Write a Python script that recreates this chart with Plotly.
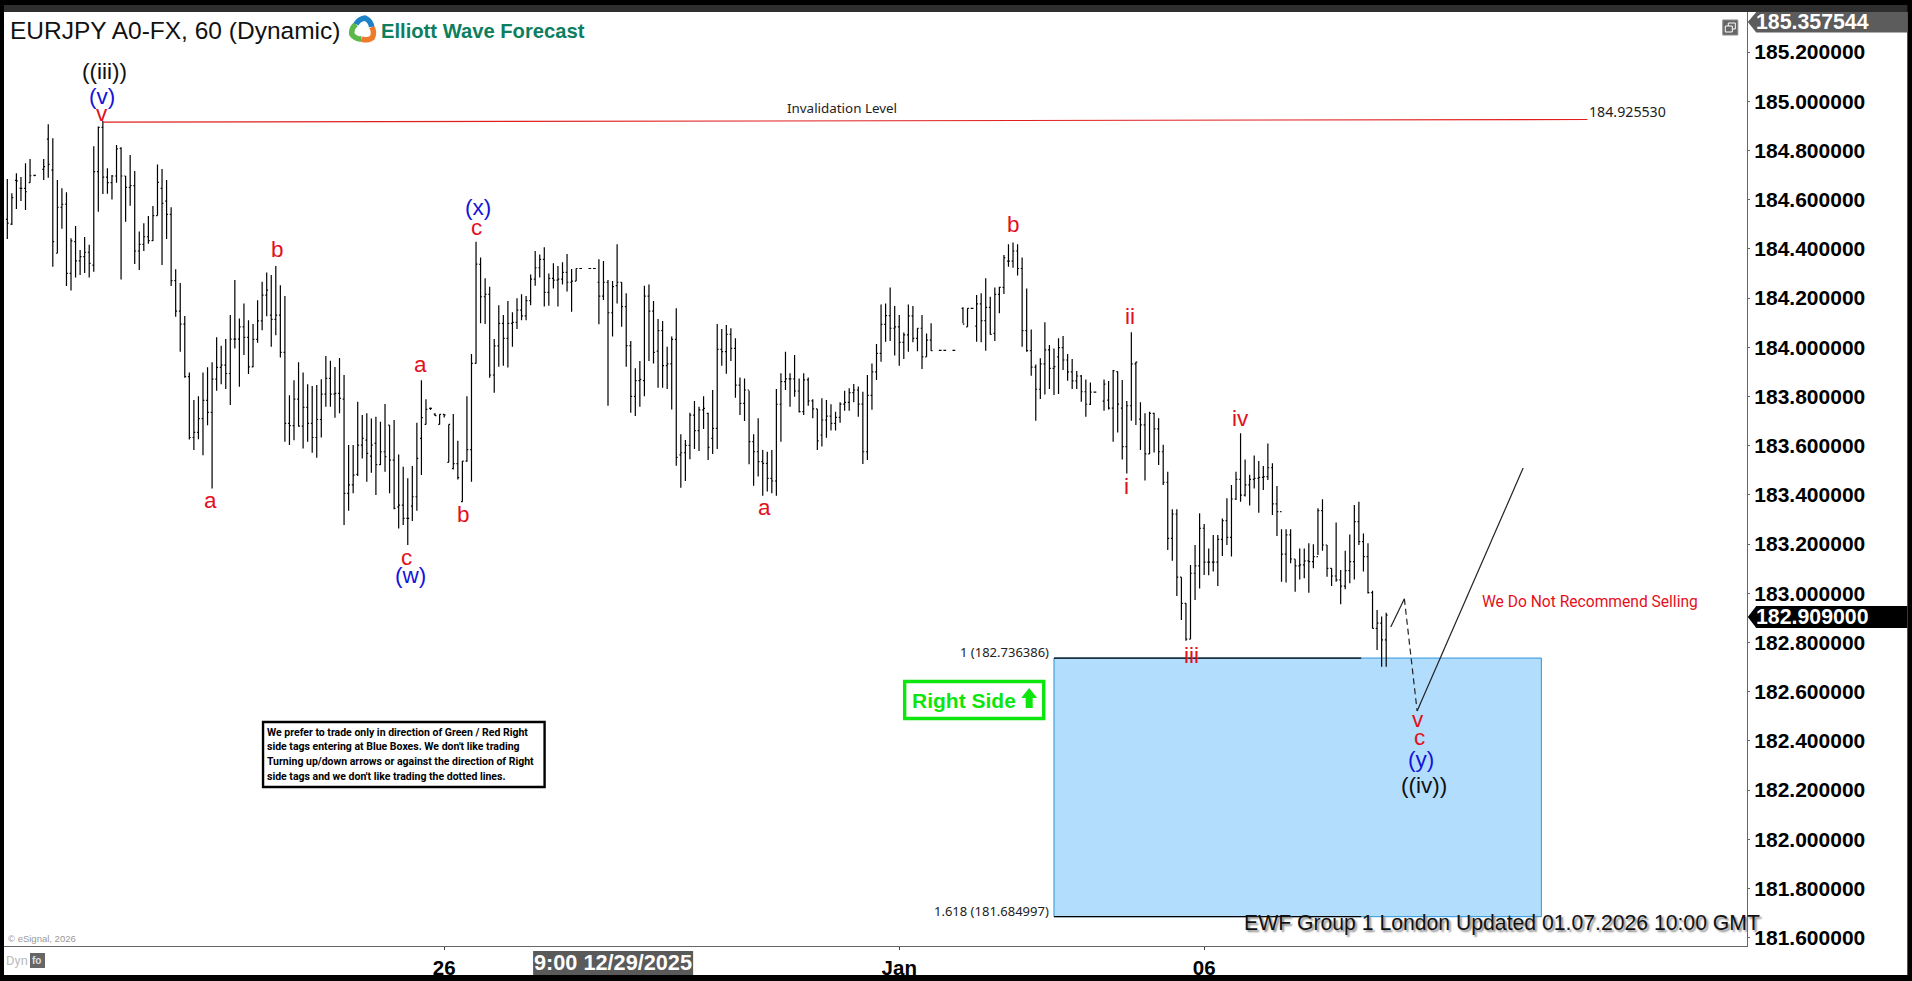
import math
import plotly.graph_objects as go

highs = [184.684,184.626,184.707,184.692,184.748,184.765,184.700,None,184.765,184.906,
184.849,184.680,184.646,184.630,184.443,184.493,184.395,184.448,184.416,184.817,
184.897,184.920,184.727,184.700,184.822,184.813,184.696,184.781,184.716,184.470,
184.504,184.533,184.574,184.743,184.724,184.680,184.569,184.317,184.261,184.127,
183.897,183.785,183.801,183.897,183.919,183.939,184.040,184.006,184.033,184.131,
184.273,184.117,184.178,184.110,184.094,184.191,184.266,184.304,184.293,184.330,
184.252,184.208,183.805,183.866,183.939,183.897,183.849,183.842,183.846,183.870,
183.964,183.945,183.920,183.956,183.887,183.602,183.602,183.778,183.724,183.731,
183.710,183.717,183.697,183.769,183.683,183.704,183.564,183.514,183.467,183.517,
183.693,183.866,183.788,183.755,183.731,183.727,183.727,183.686,183.728,183.620,
183.537,183.801,183.972,184.429,184.365,184.280,184.246,184.033,184.171,184.131,
184.188,184.142,184.199,184.215,184.208,184.296,184.391,184.377,184.406,184.300,
184.341,184.330,184.345,184.379,184.318,184.320,184.322,None,184.322,184.322,
184.358,184.350,184.273,184.269,184.418,184.264,184.219,184.025,183.914,183.944,
184.250,184.255,184.188,184.115,184.106,184.002,184.043,184.158,183.646,183.623,
183.734,183.781,183.758,183.801,183.734,183.826,184.094,184.074,184.090,184.077,
184.036,183.877,183.873,183.823,183.646,183.711,183.582,183.575,183.582,183.830,
183.894,183.982,183.894,183.968,183.873,183.894,183.877,183.788,183.749,183.792,
183.785,183.768,183.738,183.776,183.823,183.833,183.850,183.840,183.819,183.887,
183.934,184.013,184.174,184.178,184.243,184.167,184.131,184.060,184.174,184.167,
184.077,184.131,184.056,184.097,None,183.989,183.989,None,183.989,None,
184.162,184.158,184.160,184.212,184.219,184.280,184.205,184.243,184.246,184.375,
184.419,184.426,184.418,184.365,184.239,184.072,183.930,183.955,184.101,184.009,
183.995,184.036,184.046,183.972,183.952,183.903,183.887,183.869,183.857,183.820,
None,183.869,183.863,183.907,183.901,183.867,183.781,184.061,183.941,183.776,
183.731,183.738,183.734,183.711,183.603,183.494,183.341,183.341,183.065,182.959,
183.115,183.196,183.325,183.281,183.182,183.237,183.237,183.304,183.386,183.440,
183.494,183.650,183.544,183.481,183.560,183.537,183.517,183.609,183.528,183.436,
183.260,183.260,183.260,183.138,183.182,183.182,183.203,183.199,183.345,183.382,
183.196,183.101,183.287,183.094,183.173,183.239,183.359,183.372,183.243,183.203,
183.010,182.932,182.905,182.921]

lows = [184.440,184.497,184.562,184.594,184.558,184.668,184.695,None,184.680,184.689,
184.327,184.382,184.481,184.249,184.230,184.283,184.294,184.302,184.283,184.307,
184.551,184.623,184.624,184.600,184.668,184.275,184.510,184.575,184.338,184.314,
184.391,184.421,184.432,184.535,184.334,184.440,184.249,184.124,183.982,183.876,
183.625,183.582,183.626,183.561,183.683,183.426,183.823,183.849,183.830,183.765,
183.995,183.839,183.968,183.891,183.918,184.018,184.069,184.126,184.002,184.049,
183.958,183.616,183.602,183.622,183.677,183.588,183.616,183.571,183.551,183.633,
183.758,183.758,183.713,183.731,183.277,183.335,183.406,183.476,183.548,183.453,
183.490,183.399,183.521,183.494,183.406,183.341,183.263,183.277,183.196,183.294,
183.335,183.480,183.686,183.745,183.720,183.686,183.714,183.532,183.503,183.462,
183.372,183.534,183.453,183.934,184.097,184.094,183.876,183.815,183.921,183.925,
183.917,184.002,184.074,184.110,184.110,184.171,184.250,184.283,184.165,184.169,
184.239,184.165,184.255,184.226,184.144,184.269,184.318,None,184.318,184.318,
184.093,184.192,183.762,184.043,184.178,184.083,183.921,183.734,183.720,183.758,
183.801,183.944,183.934,183.835,183.835,183.830,183.747,183.518,183.429,183.456,
183.545,183.586,183.578,183.667,183.541,183.566,183.586,183.925,183.892,183.944,
183.795,183.724,183.700,183.524,183.437,183.474,183.396,183.413,183.406,183.396,
183.616,183.826,183.758,183.799,183.735,183.724,183.762,183.711,183.582,183.596,
183.632,183.661,183.661,183.693,183.742,183.742,183.776,183.717,183.525,183.541,
183.746,183.867,183.941,184.022,184.025,183.966,183.925,183.952,183.982,184.020,
183.984,183.911,183.961,183.986,None,183.985,183.985,None,183.985,None,
184.097,184.083,184.156,184.022,184.020,183.986,184.052,184.025,184.138,184.216,
184.327,184.323,184.291,184.002,183.982,183.884,183.701,183.789,183.808,183.830,
183.806,183.810,183.907,183.864,183.830,183.830,183.778,183.717,183.765,183.815,
None,183.742,183.747,183.616,183.653,183.544,183.487,183.701,183.684,183.582,
183.458,183.566,183.572,183.521,183.440,183.176,183.132,182.989,182.891,182.807,
182.813,182.972,183.019,183.074,183.073,183.088,183.029,183.151,183.196,183.149,
183.379,183.372,183.393,183.356,183.426,183.327,183.420,183.460,183.318,183.233,
183.047,183.043,183.122,183.006,183.056,183.061,183.002,183.101,183.155,183.173,
183.067,183.029,183.047,182.955,183.016,183.040,183.056,183.196,183.088,182.999,
182.857,182.769,182.701,182.701]

opens = [184.520,184.500,184.678,184.646,184.646,184.669,184.699,None,184.723,184.846,
184.720,184.382,184.569,184.581,184.300,184.429,184.351,184.368,184.386,184.334,
184.714,184.894,184.691,184.669,184.696,184.808,184.696,184.650,184.657,184.391,
184.418,184.449,184.433,184.535,184.646,184.594,184.540,184.271,184.147,184.094,
183.880,183.633,183.654,183.710,183.784,183.735,183.870,183.918,183.927,183.893,
184.033,184.033,184.083,184.040,183.920,184.032,184.107,184.212,184.130,184.113,
184.130,183.979,183.690,183.681,183.789,183.679,183.755,183.690,183.633,183.706,
183.809,183.873,183.809,183.812,183.789,183.406,183.440,183.483,183.602,183.622,
183.557,183.609,183.523,183.575,183.683,183.541,183.351,183.358,183.304,183.354,
183.392,183.629,183.686,183.751,183.728,183.686,183.727,183.532,183.507,183.527,
183.372,183.537,183.584,183.934,184.337,184.205,184.215,183.887,184.005,184.097,
184.036,184.097,184.101,184.151,184.127,184.189,184.277,184.323,184.357,184.223,
184.280,184.273,184.277,184.304,184.264,184.269,184.320,None,184.320,184.320,
184.264,184.208,184.264,184.140,184.250,184.264,184.165,184.006,183.800,183.864,
183.864,184.208,184.147,183.984,184.067,183.925,183.932,184.032,183.562,183.571,
183.601,183.724,183.661,183.745,183.731,183.629,183.670,183.991,183.982,184.052,
183.995,183.846,183.772,183.826,183.616,183.575,183.535,183.528,183.467,183.456,
183.768,183.860,183.871,183.871,183.822,183.738,183.867,183.782,183.749,183.643,
183.704,183.720,183.690,183.715,183.769,183.776,183.815,183.826,183.769,183.575,
183.804,183.900,183.975,184.093,184.128,184.077,184.083,184.020,184.050,184.127,
184.036,184.077,183.961,184.029,None,183.987,183.987,None,183.987,None,
184.158,184.083,184.158,184.086,184.176,184.108,184.162,184.056,184.215,184.243,
184.350,184.350,184.391,184.320,184.067,183.986,183.919,183.829,183.932,183.989,
183.914,183.961,183.998,183.948,183.900,183.863,183.883,183.819,183.768,183.817,
None,183.781,183.785,183.752,183.901,183.752,183.596,183.762,183.932,183.708,
183.684,183.566,183.731,183.668,183.575,183.451,183.223,183.322,183.065,182.959,
182.813,183.081,183.111,183.264,183.126,183.126,183.126,183.219,183.295,183.227,
183.383,183.463,183.399,183.440,183.463,183.467,183.471,183.474,183.510,183.363,
183.332,183.159,183.237,183.139,183.111,183.115,183.131,183.128,183.149,183.336,
183.196,183.101,183.070,183.054,183.029,183.092,183.128,183.291,183.210,183.149,
183.002,182.857,182.878,182.810]

closes = [184.504,184.608,184.676,184.646,184.632,184.697,184.699,None,184.734,184.743,
184.429,184.569,184.581,184.300,184.432,184.351,184.368,184.386,184.341,184.714,
184.894,184.691,184.669,184.696,184.806,184.696,184.650,184.657,184.391,184.418,
184.449,184.433,184.535,184.670,184.585,184.540,184.271,184.147,184.094,183.880,
183.633,183.654,183.710,183.784,183.735,183.870,183.918,183.927,183.893,184.033,
184.033,184.083,184.040,183.920,184.032,184.107,184.212,184.232,184.113,184.130,
183.979,183.690,183.681,183.789,183.679,183.755,183.690,183.633,183.706,183.809,
183.873,183.809,183.812,183.792,183.406,183.440,183.480,183.602,183.629,183.568,
183.602,183.523,183.575,183.555,183.541,183.345,183.358,183.304,183.304,183.392,
183.548,183.714,183.747,183.751,183.722,183.727,183.725,183.686,183.527,183.470,
183.537,183.584,183.934,184.338,184.205,184.215,183.887,184.005,184.097,184.036,
184.097,184.101,184.151,184.127,184.189,184.277,184.323,184.357,184.223,184.280,
184.273,184.277,184.304,184.264,184.269,184.320,184.320,None,184.320,184.320,
184.208,184.264,184.140,184.246,184.264,184.165,184.006,183.800,183.864,183.869,
184.208,184.147,183.979,184.067,183.925,183.932,184.032,183.552,183.571,183.601,
183.724,183.661,183.745,183.751,183.593,183.670,183.991,183.982,184.052,183.995,
183.846,183.772,183.826,183.616,183.575,183.535,183.528,183.467,183.456,183.768,
183.860,183.871,183.871,183.822,183.738,183.867,183.782,183.749,183.619,183.704,
183.720,183.690,183.715,183.769,183.776,183.815,183.826,183.769,183.575,183.804,
183.900,183.975,184.093,184.128,184.077,184.083,184.020,184.050,184.127,184.036,
184.077,183.961,184.029,183.986,None,183.987,183.987,None,183.987,None,
184.094,184.158,184.158,184.176,184.108,184.162,184.052,184.215,184.243,184.364,
184.350,184.391,184.320,184.067,183.986,183.919,183.829,183.932,183.989,183.914,
183.921,183.998,183.948,183.900,183.863,183.883,183.819,183.768,183.817,183.817,
None,183.850,183.752,183.905,183.769,183.596,183.762,183.932,183.939,183.684,
183.566,183.731,183.668,183.575,183.451,183.223,183.322,183.065,182.959,182.813,
183.081,183.111,183.264,183.126,183.126,183.126,183.219,183.295,183.227,183.383,
183.463,183.399,183.440,183.463,183.467,183.471,183.474,183.510,183.363,183.332,
183.159,183.237,183.139,183.111,183.115,183.131,183.128,183.149,183.336,183.196,
183.101,183.070,183.054,183.029,183.092,183.128,183.291,183.210,183.149,183.002,
182.857,182.878,182.810,182.911]

price_ticks = [185.2,185.0,184.8,184.6,184.4,184.2,184.0,183.8,183.6,183.4,183.2,183.0,
               182.8,182.6,182.4,182.2,182.0,181.8,181.6]
price_labels = ["185.200000","185.000000","184.800000","184.600000","184.400000","184.200000",
                "184.000000","183.800000","183.600000","183.400000","183.200000","183.000000",
                "182.800000","182.600000","182.400000","182.200000","182.000000","181.800000","181.600000"]
date_ticks = [96, 196, 263]
date_labels = ["26", "Jan", "06"]

wave_text = ["((iii))","(v)","v","b","(x)","c","a","a","b","c","(w)","a","b","ii","i","iv","iii","v","c","(y)","((iv))"]
wave_bar = [21.3,20.8,20.8,59.3,103.4,103,44.6,90.9,100.2,87.8,88.7,166.4,221,246.8,246,271,260.2,310,310.4,310.7,311.4]
wave_price = [185.119,185.021,184.952,184.399,184.566,184.485,183.375,183.928,183.318,183.147,183.07,183.350,184.497,
              184.123,183.432,183.712,182.745,182.485,182.415,182.322,182.220]
wave_colour = ["black","blue","red","red","blue","red","red","red","red","red","blue","red","red","red","red","red","red","red","red","blue","black"]

box_bars = [230, 337.1]
box_prices = [181.684997, 182.736386]
line_end_bar = 297.5
invalid_bars = [21, 347.2]
invalid_prices = [184.915, 184.925530]
path_bars_a = [304, 307]
path_prices_a = [182.863, 182.977]
path_bars_b = [307, 309.8]
path_prices_b = [182.977, 182.521]
path_bars_c = [309.8, 333.1]
path_prices_c = [182.521, 183.509]

W, H = 1912, 981
L, R, T, B = 4.0, 1746.7, 12.0, 946.0
SANS = "Liberation Sans"
CONDENSED = "Roboto"
SMALL = "Noto Sans"
RED, BLUE = "#e3101c", "#1414d8"
colour_map = {"red": RED, "blue": BLUE, "black": "#111111"}


def px(x):
    return (x - L) / (R - L)


def py(y):
    return 1 - (y - T) / (B - T)


def pts(points):
    return "M " + " L ".join(f"{px(a):.5f},{py(b):.5f}" for a, b in points) + " Z"


def open_pts(points):
    return "M " + " L ".join(f"{px(a):.5f},{py(b):.5f}" for a, b in points)


idx = [i for i, v in enumerate(highs) if v is not None]
fig = go.Figure()
fig.add_trace(go.Ohlc(
    x=idx,
    open=[opens[i] for i in idx], high=[highs[i] for i in idx],
    low=[lows[i] for i in idx], close=[closes[i] for i in idx],
    increasing=dict(line=dict(color="#000000", width=1.2)),
    decreasing=dict(line=dict(color="#000000", width=1.2)),
    tickwidth=0.3, showlegend=False, hoverinfo="skip",
))
fig.add_trace(go.Scatter(x=invalid_bars, y=invalid_prices, mode="lines", line=dict(color="#e02020", width=1.1),
                         showlegend=False, hoverinfo="skip"))
fig.add_trace(go.Scatter(x=path_bars_a, y=path_prices_a, mode="lines", line=dict(color="#222222", width=1.2),
                         showlegend=False, hoverinfo="skip"))
fig.add_trace(go.Scatter(x=path_bars_b, y=path_prices_b, mode="lines", line=dict(color="#222222", width=1.2, dash="6px,4px"),
                         showlegend=False, hoverinfo="skip"))
fig.add_trace(go.Scatter(x=path_bars_c, y=path_prices_c, mode="lines", line=dict(color="#222222", width=1.2),
                         showlegend=False, hoverinfo="skip"))

shapes = []


def paper_rect(x0, y0, x1, y1, fill, line=None, lw=0, layer="above"):
    shapes.append(dict(type="rect", xref="paper", yref="paper", x0=px(x0), x1=px(x1), y0=py(y0), y1=py(y1),
                       fillcolor=fill, line=dict(color=line or fill, width=lw), layer=layer))


def paper_path(points, fill, line=None, lw=0, closed=True):
    shapes.append(dict(type="path", xref="paper", yref="paper", path=pts(points) if closed else open_pts(points),
                       fillcolor=fill if closed else "rgba(0,0,0,0)", line=dict(color=line or fill, width=lw), layer="above"))


# blue target box, drawn on the price scale
shapes.append(dict(type="rect", xref="x", yref="y", x0=box_bars[0], x1=box_bars[1], y0=box_prices[0], y1=box_prices[1],
                   fillcolor="#b3ddfd", line=dict(color="#2b96dc", width=1), layer="below"))
for p in box_prices:
    shapes.append(dict(type="line", xref="x", yref="y", x0=box_bars[0], x1=line_end_bar, y0=p, y1=p,
                       line=dict(color="#000000", width=1.2), layer="below"))

# window frame
paper_rect(0, 0, W, 5, "#000000")
paper_rect(0, 5, W, 12, "#2e2e2e")
paper_rect(0, 975, W, H, "#000000")
paper_rect(0, 0, 4, H, "#000000")
paper_rect(1907, 0, W, H, "#000000")

# price tags
paper_path([(1747.5, 22), (1756, 12), (1907, 12), (1907, 32.5), (1756, 32.5)], "#5c5c5c")
paper_path([(1747.5, 617), (1756, 606), (1907, 606), (1907, 628), (1756, 628)], "#000000")
paper_rect(533, 951, 693, 975, "#5a5a5a")

# restore icon
paper_rect(1722.5, 20, 1737.5, 35, "#666666", "#888888", 1)
paper_rect(1728, 23, 1735, 29, "rgba(0,0,0,0)", "#ffffff", 1)
paper_rect(1725, 26, 1732, 32, "#666666", "#ffffff", 1)

# rule box, green tag
paper_rect(263, 722, 544.5, 787, "#ffffff", "#000000", 2.4)
paper_rect(904.5, 681.5, 1043.5, 718.5, "#ffffff", "#0de60d", 3.4)
paper_path([(1029, 688), (1037, 698), (1032.5, 698), (1032.5, 708), (1025.5, 708), (1025.5, 698), (1021, 698)], "#0de60d")

# lock icon
paper_rect(30, 953, 45, 968, "#666666")

# logo swirl
cx, cy, rad = 363, 30, 12
for start, colour in ((200, "#5db84a"), (320, "#ee7a2b"), (80, "#1d82c6")):
    arc = [(cx + (rad - 0.5 * abs(k - 6)) * math.cos(math.radians(start - 60 + k * 10)),
            cy - (rad - 0.5 * abs(k - 6)) * math.sin(math.radians(start - 60 + k * 10))) for k in range(13)]
    paper_path(arc, colour, colour, 5.5, closed=False)

ann = []


def note(x, y, text, size, colour="#000000", family=SANS, anchor="left", weight="normal", shadow=None):
    font = dict(family=family, size=size, color=colour, weight=weight)
    if shadow:
        font["shadow"] = shadow
    ann.append(dict(xref="paper", yref="paper", x=px(x), y=py(y), text=text, showarrow=False, xanchor=anchor,
                    yanchor="middle", font=font, borderpad=0, borderwidth=0))


for t, b, p, c in zip(wave_text, wave_bar, wave_price, wave_colour):
    ann.append(dict(xref="x", yref="y", x=b, y=p, text=t, showarrow=False, xanchor="center", yanchor="middle",
                    font=dict(family=SANS, size=22.5, color=colour_map[c]), borderpad=0, borderwidth=0))

note(10, 30, "EURJPY A0-FX, 60 (Dynamic)", 24.5, "#111111")
note(381, 31, "Elliott Wave Forecast", 20.2, "#0d7f60", weight="bold")
note(1756, 22, "185.357544", 21.3, "#ffffff", weight="bold")
note(1756, 617, "182.909000", 21.3, "#ffffff", weight="bold")
note(613, 963, "9:00 12/29/2025", 21.7, "#ffffff", anchor="center", weight="bold")
note(842, 108, "Invalidation Level", 13.4, "#222222", SMALL, "center")
note(1589, 111, "184.925530", 14.2, "#222222", SMALL)
note(1049, 652, "1 (182.736386)", 13, "#222222", SMALL, "right")
note(1049, 911, "1.618 (181.684997)", 13, "#222222", SMALL, "right")
note(1590, 602, "We Do Not Recommend Selling", 15.6, RED, CONDENSED, "center")
note(912, 700, "Right Side", 21, "#0de60d", weight="bold")
note(1244, 923, "EWF Group 1 London Updated 01.07.2026 10:00 GMT", 21.2, "#111111", shadow="2px 2px 2px #888888")
note(8, 938, "\u00a9 eSignal, 2026", 9.5, "#999999")
note(6, 961, "Dyn", 13, "#bbbbbb", CONDENSED)
note(32, 961, "fo", 10, "#dddddd", weight="bold")
rule_lines = ["We prefer to trade only in direction of Green / Red Right",
              "side tags entering at Blue Boxes. We don't like trading",
              "Turning up/down arrows or against the direction of Right",
              "side tags and we don't like trading the dotted lines."]
for n, s in enumerate(rule_lines):
    note(267, 732 + n * 14.7, s, 10.5, "#000000", CONDENSED, weight="bold")

fig.update_layout(
    width=W, height=H, autosize=False,
    paper_bgcolor="#ffffff", plot_bgcolor="#ffffff",
    margin=dict(l=L, r=W - R, t=T, b=H - B, pad=0, autoexpand=False),
    showlegend=False, shapes=shapes, annotations=ann,
    xaxis=dict(range=[(L - 7.3) / 4.55, (R - 7.3) / 4.55], tickmode="array", tickvals=date_ticks, ticktext=date_labels,
               showgrid=False, zeroline=False, rangeslider=dict(visible=False), showline=True, linecolor="#666666",
               linewidth=1, ticks="outside", ticklen=3, tickcolor="#444444",
               tickfont=dict(family=SANS, size=20.5, color="#000000", weight="bold")),
    yaxis=dict(side="right", range=[185.2 - (B - 52) / 246, 185.2 + (52 - T) / 246], tickmode="array", tickvals=price_ticks,
               ticktext=price_labels, showgrid=False, zeroline=False, showline=True, linecolor="#666666", linewidth=1.2,
               ticks="outside", ticklen=2, tickcolor="#666666",
               tickfont=dict(family=SANS, size=21, color="#000000", weight="bold")),
)
fig.write_html("out.html", config=dict(displayModeBar=False), post_script="document.body.style.margin='0';document.body.style.overflow='hidden';")
